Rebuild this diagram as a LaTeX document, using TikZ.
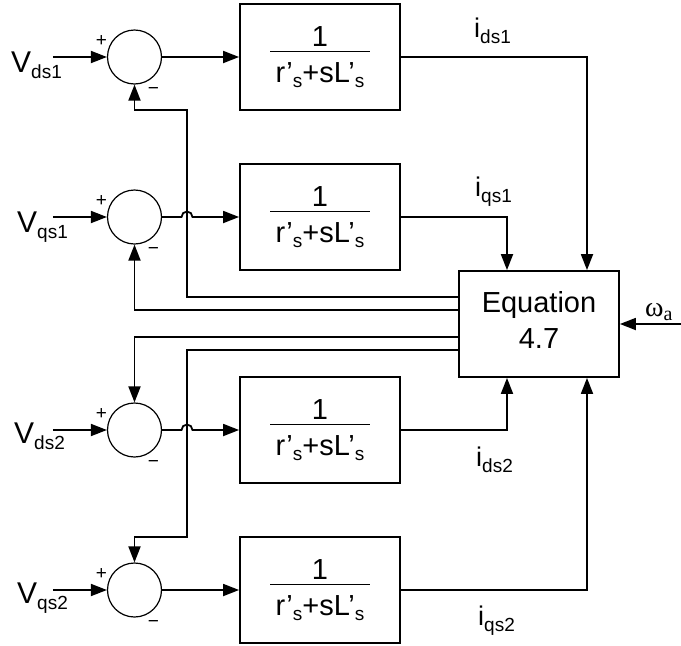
\documentclass[tikz,border=0pt]{standalone}
\usepackage{fontspec}
\setmainfont{Liberation Sans}
\newfontfamily\serifgreek{Liberation Serif}
\usepackage{tikz}
\usetikzlibrary{arrows.meta, positioning, calc}

\newcommand{\sigsub}[1]{\raisebox{-6pt}{\fontsize{19}{19}\selectfont #1}}
\newcommand{\primesub}{\raisebox{-5pt}{\fontsize{19}{19}\selectfont s}}
\newcommand{\blockfrac}{1\\[-24pt]\rule{100pt}{1.6pt}\\r’\primesub+sL’\primesub}

\begin{document}
\begin{tikzpicture}[
				x=1pt, y=-1pt,
				block/.style={rectangle, draw, line width=1.8pt, minimum width=160pt, minimum height=106pt,
					inner sep=0pt, align=center, font=\fontsize{29}{30}\selectfont},
				sumnode/.style={circle, draw, line width=1.2pt, minimum size=54pt, inner sep=0pt},
				arrow/.style={-{Triangle[length=16pt, width=12pt]}, line width=1.8pt},
				sign/.style={inner sep=0pt, font=\fontsize{19}{19}\selectfont},
				vlabel/.style={inner sep=0pt, anchor=base west, font=\fontsize{30}{30}\selectfont},
				ilabel/.style={inner sep=0pt, anchor=base west, font=\fontsize{27}{27}\selectfont}
				]
				\useasboundingbox (0,0) rectangle (681,646);
				
				% Nodes
				\node[block] (blk1) at (320,57) {\blockfrac};
				\node[block] (blk2) at (320,217) {\blockfrac};
				\node[block] (blk3) at (320,430) {\blockfrac};
				\node[block] (blk4) at (320,590) {\blockfrac};
				\node[block, font=\fontsize{29}{36}\selectfont] (eq) at (539,324) {Equation\\4.7\rule[-9pt]{0pt}{9pt}};
				
				\node[sumnode, left=77pt of blk1] (sum1) {};
				\node[sumnode, left=77pt of blk2] (sum2) {};
				\node[sumnode, left=77pt of blk3] (sum3) {};
				\node[sumnode, left=77pt of blk4] (sum4) {};
				
				\node[sign] (p1) at ($(sum1)+(-33,-16)$) {+};
				\node[sign] (p2) at ($(sum2)+(-33,-16)$) {+};
				\node[sign] (p3) at ($(sum3)+(-33,-16)$) {+};
				\node[sign] (p4) at ($(sum4)+(-33,-16)$) {+};
				\node[sign] (m1) at ($(sum1)+(19,34)$) {−};
				\node[sign] (m2) at ($(sum2)+(19,34)$) {−};
				\node[sign] (m3) at ($(sum3)+(19,34)$) {−};
				\node[sign] (m4) at ($(sum4)+(19,34)$) {−};
				
				\coordinate[left=54pt of sum1] (in1);
				\coordinate[left=54pt of sum2] (in2);
				\coordinate[left=54pt of sum3] (in3);
				\coordinate[left=54pt of sum4] (in4);
				\node[vlabel] (vd1) at (11,72) {V\sigsub{ds1}};
				\node[vlabel] (vq1) at (17,232) {V\sigsub{qs1}};
				\node[vlabel] (vd2) at (14,443) {V\sigsub{ds2}};
				\node[vlabel] (vq2) at (17,603) {V\sigsub{qs2}};
				
				\node[ilabel] (id1) at (474,37) {i\sigsub{ds1}};
				\node[ilabel] (iq1) at (475,196) {i\sigsub{qs1}};
				\node[ilabel] (id2) at (476,466) {i\sigsub{ds2}};
				\node[ilabel] (iq2) at (478,625) {i\sigsub{qs2}};
				
				\coordinate (wa) at (681,324);
				\node[inner sep=0pt, anchor=base west, font=\serifgreek\fontsize{28}{28}\selectfont] (omega) at (645,316) {ω\raisebox{-4pt}{\fontsize{20}{20}\selectfont a}};
				
				\coordinate (jog1) at (187,110);
				\coordinate (jog2) at (187,537);
				
				% Arrows
				\draw[arrow] (in1) -- (sum1);
				\draw[arrow] (in2) -- (sum2);
				\draw[arrow] (in3) -- (sum3);
				\draw[arrow] (in4) -- (sum4);
				
				\draw[arrow] (sum1) -- (blk1);
				\draw[arrow] (sum2.east) -- ($(jog1 |- sum2)+(-5.5,0)$) arc[start angle=180, end angle=0, radius=5.5pt] -- (blk2.west);
				\draw[arrow] (sum3.east) -- ($(jog1 |- sum3)+(-5.5,0)$) arc[start angle=180, end angle=0, radius=5.5pt] -- (blk3.west);
				\draw[arrow] (sum4) -- (blk4);
				
				\draw[arrow] (blk1.east) -| ($(eq.north)+(48,0)$);
				\draw[arrow] (blk2.east) -| ($(eq.north)+(-32,0)$);
				\draw[arrow] (blk3.east) -| ($(eq.south)+(-32,0)$);
				\draw[arrow] (blk4.east) -| ($(eq.south)+(48,0)$);
				\draw[arrow] (wa) -- (eq.east);
				
				% Feedback
				\draw[arrow] ($(eq.west)+(0,-27)$) -| (jog1) -| (sum1.south);
				\draw[arrow] ($(eq.west)+(0,-14)$) -| (sum2.south);
				\draw[arrow] ($(eq.west)+(0,13)$) -| (sum3.north);
				\draw[arrow] ($(eq.west)+(0,26)$) -| (jog2) -| (sum4.north);
				
			\end{tikzpicture}
\end{document}
